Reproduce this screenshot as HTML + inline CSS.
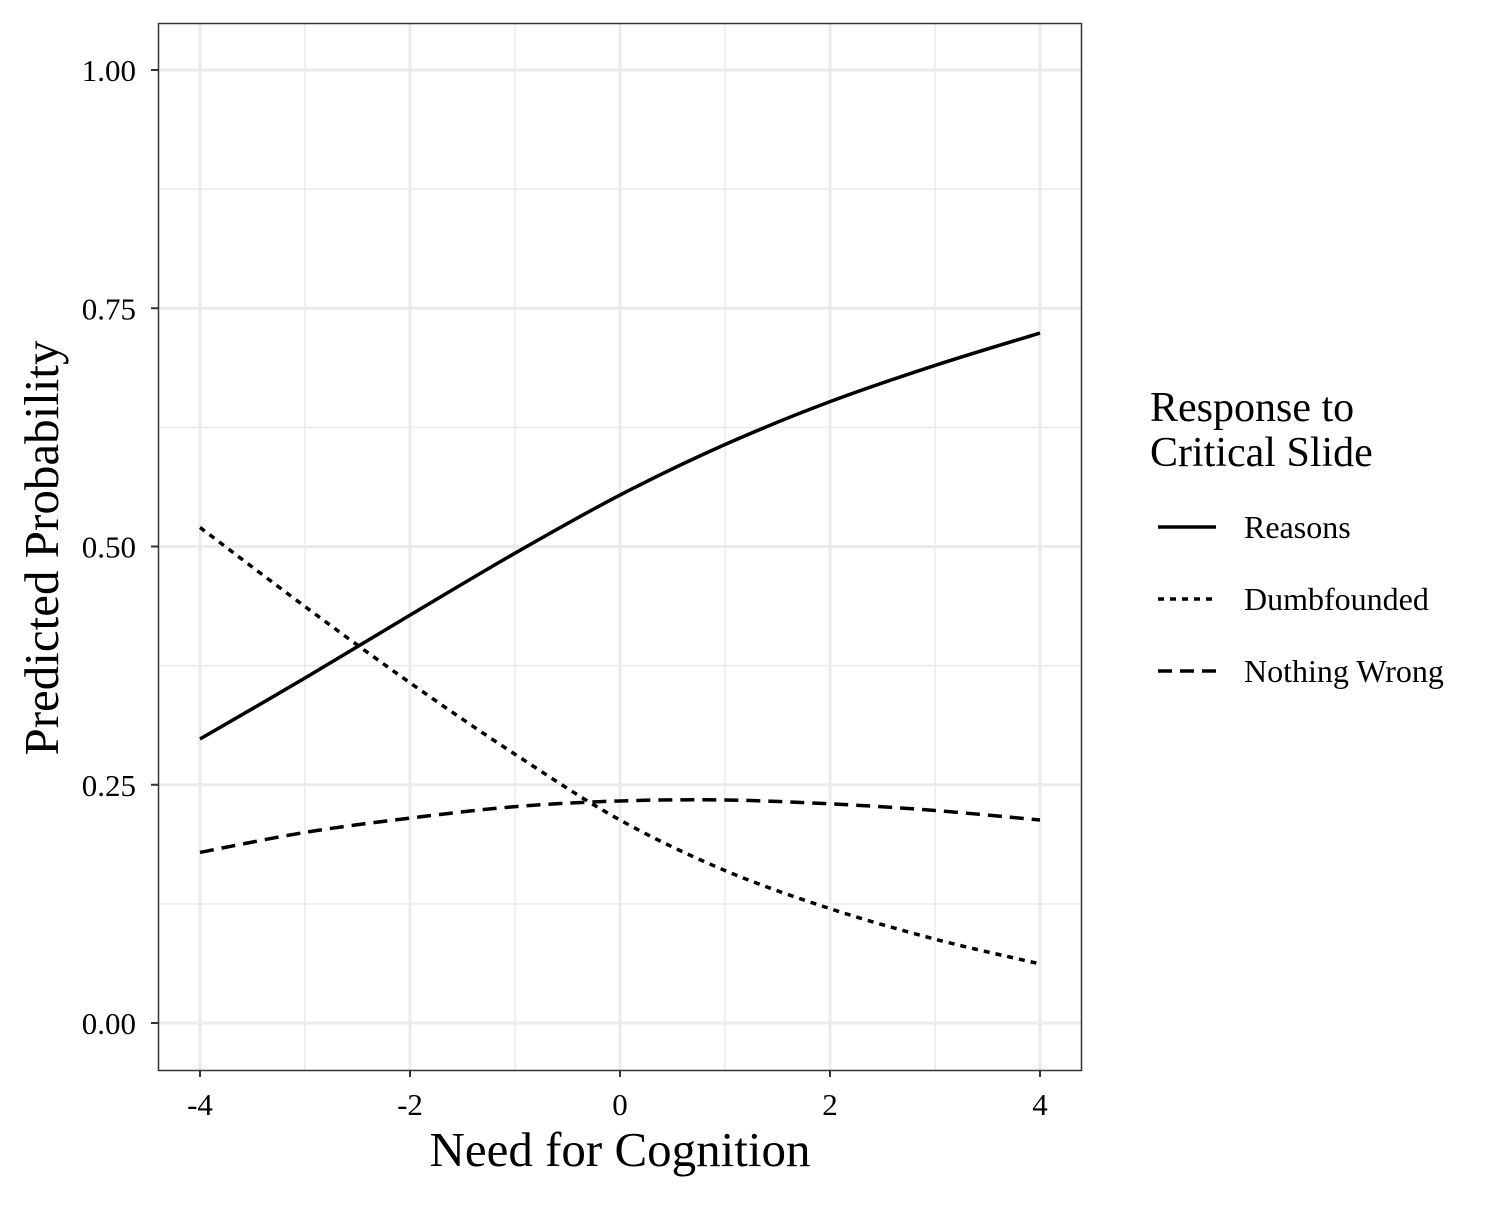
<!DOCTYPE html>
<html><head><meta charset="utf-8"><style>
html,body{margin:0;padding:0;background:#fff;}
svg text{font-family:"Liberation Serif",serif;fill:#000;}
</style></head><body>
<svg id="chart" width="1500" height="1200" viewBox="0 0 1500 1200" xmlns="http://www.w3.org/2000/svg">
<rect x="0" y="0" width="1500" height="1200" fill="#fff"/>
<g id="grid"></g>
<g id="series"></g>
<rect x="158.5" y="23.5" width="923" height="1047" fill="none" stroke="#333" stroke-width="1.5"/>
<g id="axes"></g>
<text x="620" y="1166" font-size="49" text-anchor="middle">Need for Cognition</text>
<text transform="translate(58,548) rotate(-90)" font-size="49" text-anchor="middle">Predicted Probability</text>
<g>
<text x="1150" y="421" font-size="42">Response to</text>
<text x="1150" y="466" font-size="42">Critical Slide</text>
<line x1="1158" y1="527" x2="1216" y2="527" stroke="#000" stroke-width="3.5"/>
<text x="1244" y="538" font-size="32">Reasons</text>
<line x1="1158" y1="599" x2="1216" y2="599" stroke="#000" stroke-width="3.5" stroke-dasharray="6,6"/>
<text x="1244" y="610" font-size="32">Dumbfounded</text>
<line x1="1158" y1="671" x2="1216" y2="671" stroke="#000" stroke-width="3.5" stroke-dasharray="14,8"/>
<text x="1244" y="682" font-size="32">Nothing Wrong</text>
</g>
</svg>
<script>
const xValues = [-4,-3,-2,-1,0,1,2,3,4];
const reasons = [0.298,0.362,0.428,0.493,0.554,0.607,0.652,0.690,0.724];
const dumbfounded = [0.520,0.437,0.357,0.282,0.213,0.160,0.120,0.088,0.062];
const nothingWrong = [0.179,0.200,0.215,0.227,0.233,0.234,0.230,0.223,0.213];
const xTicks = [-4,-2,0,2,4];
const xTickLabels = ["-4","-2","0","2","4"];
const yTicks = [0,0.25,0.5,0.75,1];
const yTickLabels = ["0.00","0.25","0.50","0.75","1.00"];

const NS="http://www.w3.org/2000/svg";
const sx = v => 620 + v*105;
const sy = v => 1023 - v*953;
function mk(tag, parent, attrs){const e=document.createElementNS(NS,tag);for(const k in attrs)e.setAttribute(k,attrs[k]);parent.appendChild(e);return e;}
const grid=document.getElementById('grid'), axes=document.getElementById('axes'), ser=document.getElementById('series');
[-3,-1,1,3].forEach(v=>{const l=mk('line',grid,{x1:sx(v),x2:sx(v),y1:23,y2:1070,stroke:'#ebebeb','stroke-width':1.5});

});
[0.125,0.375,0.625,0.875].forEach(v=>{const l=mk('line',grid,{x1:158,x2:1081,y1:sy(v),y2:sy(v),stroke:'#ebebeb','stroke-width':1.5});

});
xTicks.forEach((v,i)=>{const l=mk('line',grid,{x1:sx(v),x2:sx(v),y1:23,y2:1070,stroke:'#ebebeb','stroke-width':3});


const t=mk('line',axes,{x1:sx(v),x2:sx(v),y1:1070,y2:1077,stroke:'#333','stroke-width':2});


const tx=mk('text',axes,{x:sx(v),y:1115,'font-size':31,'text-anchor':'middle',fill:'#000'});tx.textContent=xTickLabels[i];

});
yTicks.forEach((v,i)=>{const l=mk('line',grid,{x1:158,x2:1081,y1:sy(v),y2:sy(v),stroke:'#ebebeb','stroke-width':3});


const t=mk('line',axes,{x1:151,x2:158,y1:sy(v),y2:sy(v),stroke:'#333','stroke-width':2});


const tx=mk('text',axes,{x:136,y:sy(v)+11,'font-size':31,'text-anchor':'end',fill:'#000'});tx.textContent=yTickLabels[i];

});
function smoothPath(xs,ys){const p=xs.map((x,i)=>[sx(x),sy(ys[i])]);let d='M'+p[0][0]+','+p[0][1];
for(let i=0;i<p.length-1;i++){const p0=p[Math.max(0,i-1)],p1=p[i],p2=p[i+1],p3=p[Math.min(p.length-1,i+2)];
const c1=[p1[0]+(p2[0]-p0[0])/6,p1[1]+(p2[1]-p0[1])/6],c2=[p2[0]-(p3[0]-p1[0])/6,p2[1]-(p3[1]-p1[1])/6];
d+=' C'+c1[0]+','+c1[1]+' '+c2[0]+','+c2[1]+' '+p2[0]+','+p2[1];}return d;}
const s1=mk('path',ser,{d:smoothPath(xValues,reasons),fill:'none',stroke:'#000','stroke-width':3.5});


const s2=mk('path',ser,{d:smoothPath(xValues,dumbfounded),fill:'none',stroke:'#000','stroke-width':3.5,'stroke-dasharray':'6,6'});


const s3=mk('path',ser,{d:smoothPath(xValues,nothingWrong),fill:'none',stroke:'#000','stroke-width':3.5,'stroke-dasharray':'14,8'});


</script>
</body></html>
